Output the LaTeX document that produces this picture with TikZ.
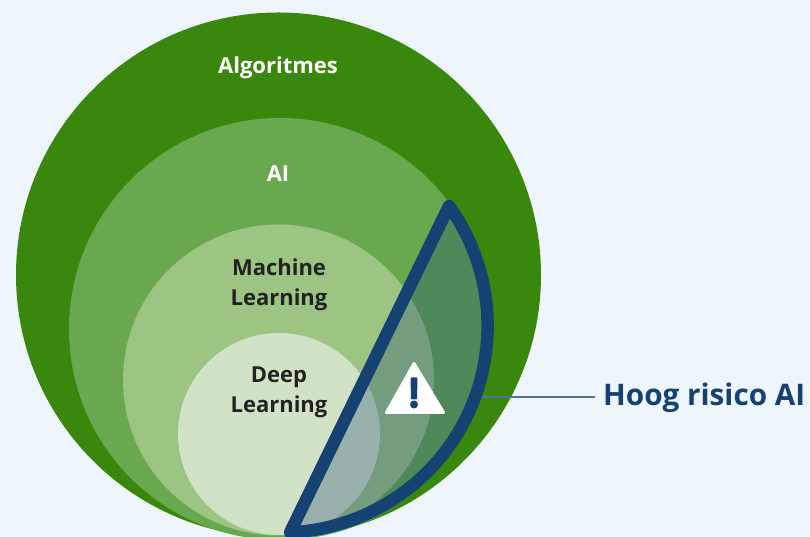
\documentclass[tikz,border=0pt]{standalone}
\usepackage{fontspec}
\setmainfont{Open Sans}
\definecolor{bgc}{HTML}{EEF6FC}
\definecolor{c1}{HTML}{39870C}
\definecolor{c2}{HTML}{6AA84F}
\definecolor{c3}{HTML}{9CC584}
\definecolor{c4}{HTML}{D2E2C6}
\definecolor{navy}{HTML}{154273}
\definecolor{ink}{HTML}{222222}
\tikzset{
  x=1pt,y=1pt,
  circ/.style={circle,inner sep=0pt,outer sep=0pt,minimum size=#1},
  lab/.style={font=\bfseries\fontsize{22}{30}\selectfont,align=center,inner sep=0pt},
}
\begin{document}
\begin{tikzpicture}
\useasboundingbox (0,0) rectangle (810,537);
\fill[bgc] (0,0) rectangle (810,537);
\node[circ=525pt,fill=c1] (algo) at (278.5,262) {};
\node[circ=422pt,fill=c2] (ai) at (280,208) {};
\node[circ=311pt,fill=c3] (ml) at (278.5,157) {};
\node[circ=202pt,fill=c4] (dl) at (279,103) {};
\node[lab,text=white] (t1) at (278,469.5) {Algoritmes};
\node[lab,text=white] (t2) at (278,363) {AI};
\node[lab,text=ink] (t3) at (279,252) {Machine\\Learning};
\node[lab,text=ink] (t4) at (279,145) {Deep\\Learning};
\coordinate (apex) at (449,331);
\coordinate (tick) at (481,140);
\node[font=\bfseries\fontsize{29.7}{34}\selectfont,text=navy,anchor=west,inner sep=0pt] (hr) at (603,139) {Hoog risico AI};
\draw[navy!75!white,line width=1.1pt] (tick) -- ([xshift=-8pt]hr.west |- tick);
\path[fill=navy,fill opacity=.3] (apex) arc[start angle=35.6,end angle=-87.52,radius=206.4] -- cycle;
\draw[navy,line width=12.5pt,line join=round] (apex) arc[start angle=35.6,end angle=-87.52,radius=206.4] -- cycle;
\fill[white,draw=white,line width=3pt,line join=round] (414,173.5) -- (443.5,124.5) -- (386.5,124.5) -- cycle;
\fill[navy,rounded corners=1pt] (410.5,159.5) -- (417.5,159.5) -- (417,137.5) -- (411,137.5) -- cycle;
\fill[navy] (414,132.5) circle[radius=4];
\end{tikzpicture}
\end{document}
